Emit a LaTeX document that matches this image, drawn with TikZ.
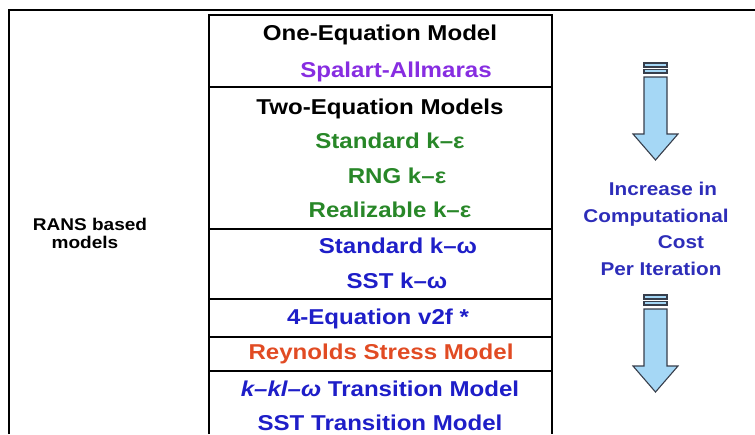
\documentclass[tikz,border=0pt]{standalone}
\usepackage{fontspec}
\setmainfont{Liberation Sans}[FakeStretch=1.12]
\definecolor{cpurple}{RGB}{135,45,225}
\definecolor{cgreen}{RGB}{40,135,40}
\definecolor{cblue}{RGB}{30,30,200}
\definecolor{cred}{RGB}{225,75,35}
\definecolor{cnavy}{RGB}{45,45,185}
\definecolor{afill}{RGB}{165,215,245}
\definecolor{aline}{RGB}{55,62,75}
\begin{document}
\begin{tikzpicture}[x=1pt,y=-1pt,
  lbl/.style={anchor=base,inner sep=0pt,font=\fontsize{21.5}{24}\selectfont\bfseries},
  side/.style={anchor=base,inner sep=0pt,font=\fontsize{18.5}{21}\selectfont\bfseries,text=cnavy},
  rans/.style={anchor=base,inner sep=0pt,font=\fontsize{17}{19}\selectfont\bfseries},
  frame/.style={line width=2.2pt,black},
  arr/.style={fill=afill,draw=aline,line width=1.1pt,line join=miter}]
\useasboundingbox (0,0) rectangle (755,434);
% outer frame
\draw[frame] (9,434) -- (9,10) -- (755,10);
% main box
\draw[line width=2.6pt] (209,434) -- (209,15) -- (552,15) -- (552,434);
\foreach \yy in {87,229,299,337,371}
  \draw[line width=2.4pt] (209,\yy) -- (552,\yy);
% texts
\node[lbl] (one) at (380,40) {One-Equation Model};
\node[lbl,text=cpurple] (sa) at (396,77) {Spalart-Allmaras};
\node[lbl] (two) at (380,114) {Two-Equation Models};
\node[lbl,text=cgreen] (ske) at (390,148) {Standard k–ε};
\node[lbl,text=cgreen] (rng) at (397,183) {RNG k–ε};
\node[lbl,text=cgreen] (rke) at (390,217) {Realizable k–ε};
\node[lbl,text=cblue] (skw) at (398,253) {Standard k–ω};
\node[lbl,text=cblue] (sst) at (397,288) {SST k–ω};
\node[lbl,text=cblue] (v2f) at (378,324) {4-Equation v2f *};
\node[lbl,text=cred] (rsm) at (381,359) {Reynolds Stress Model};
\node[lbl,text=cblue] (kkl) at (380,396) {\itshape k–kl–ω\upshape{} Transition Model};
\node[lbl,text=cblue] (ssttr) at (380,430) {SST Transition Model};
% left label
\node[rans] (rans1) at (90,230) {RANS based};
\node[rans] (rans2) at (85,248) {models};
% right label
\node[side] (inc) at (663,195) {Increase in};
\node[side] (comp) at (656,222) {Computational};
\node[side] (cost) at (681,248) {Cost};
\node[side] (per) at (661,275) {Per Iteration};
% arrows
\foreach \t in {0,232}{
  \begin{scope}[yshift=-\t pt]
  \draw[arr] (644,63) rectangle (667,67);
  \draw[arr] (644,69.5) rectangle (667,73);
  \draw[arr] (644,77) -- (667,77) -- (667,134) -- (678,134) -- (655.5,160)
     -- (633,134) -- (644,134) -- cycle;
  \end{scope}}
\end{tikzpicture}
\end{document}
